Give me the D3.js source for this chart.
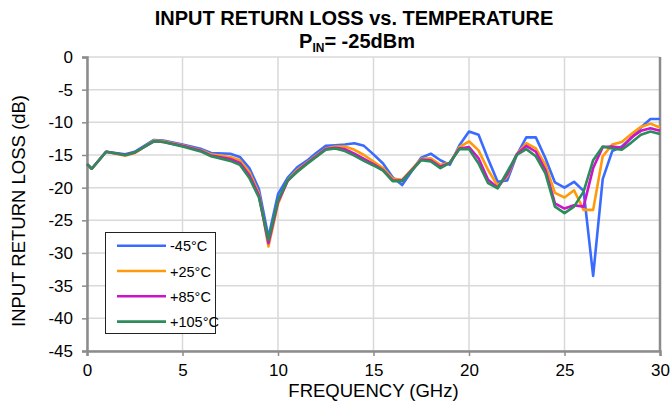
<!DOCTYPE html>
<html>
<head>
<meta charset="utf-8">
<script src="https://cdn.jsdelivr.net/npm/d3@7"></script>
<style>
  html, body { margin: 0; padding: 0; background: #fff; }
  svg { display: block; font-family: "Liberation Sans", Arial, sans-serif; }
</style>
</head>
<body>
<svg id="chart" width="672" height="406"></svg>
<script>
// ---- data ----
const freqGHz = [0, 0.25, 1, 2, 2.5, 3.5, 4, 5, 6, 6.5, 7.5, 8, 8.5, 9, 9.5, 10, 10.5, 11, 11.5, 12, 12.5, 13, 13.5, 14, 14.5, 15, 15.5, 16, 16.5, 17, 17.5, 18, 18.5, 19, 19.5, 20, 20.5, 21, 21.5, 22, 22.5, 23, 23.5, 24, 24.5, 25, 25.5, 26, 26.5, 27, 27.5, 28, 28.5, 29, 29.5, 30];
const rlMinus45 = [-16.4, -17.1, -14.5, -14.9, -14.5, -12.7, -12.8, -13.4, -14.1, -14.7, -14.8, -15.3, -17.0, -20.2, -27.6, -21.0, -18.5, -16.9, -15.9, -14.7, -13.6, -13.5, -13.4, -13.2, -13.6, -14.9, -16.3, -18.4, -19.6, -17.5, -15.4, -14.8, -15.8, -16.5, -13.5, -11.4, -11.9, -15.6, -19.1, -18.9, -15.0, -12.3, -12.3, -15.5, -19.2, -20.0, -19.1, -20.5, -33.5, -18.7, -14.4, -13.7, -12.4, -10.8, -9.5, -9.5];
const rlPlus25 = [-16.4, -17.1, -14.5, -15.1, -14.7, -12.8, -12.9, -13.5, -14.3, -14.9, -15.3, -15.8, -17.6, -20.9, -29.0, -22.5, -18.9, -17.3, -16.2, -15.1, -14.0, -13.7, -13.7, -14.2, -15.0, -16.0, -17.0, -18.6, -18.8, -17.2, -15.6, -15.5, -16.5, -16.2, -13.8, -12.9, -14.3, -17.3, -19.7, -18.3, -14.9, -13.2, -14.0, -16.5, -20.8, -21.5, -20.4, -23.4, -23.4, -15.2, -13.4, -13.0, -11.8, -10.7, -10.2, -10.8];
const rlPlus85 = [-16.4, -17.1, -14.5, -15.0, -14.6, -12.9, -13.0, -13.6, -14.4, -15.1, -15.6, -16.2, -18.1, -21.2, -28.5, -22.2, -19.0, -17.5, -16.3, -15.2, -14.1, -13.9, -14.1, -14.8, -15.6, -16.4, -17.3, -18.9, -18.9, -17.3, -15.7, -15.8, -16.8, -16.2, -14.0, -13.8, -15.5, -18.8, -20.0, -18.0, -14.9, -13.6, -14.5, -17.3, -22.4, -23.2, -22.7, -22.9, -17.0, -13.8, -13.7, -13.9, -12.3, -11.3, -10.9, -11.3];
const rlPlus105 = [-16.4, -17.1, -14.5, -15.0, -14.6, -12.9, -13.0, -13.7, -14.5, -15.2, -15.9, -16.5, -18.5, -21.5, -28.0, -21.9, -18.9, -17.6, -16.4, -15.3, -14.2, -14.0, -14.4, -15.1, -15.9, -16.6, -17.4, -19.0, -19.0, -17.4, -15.8, -16.0, -17.0, -16.2, -14.1, -14.1, -16.3, -19.3, -20.1, -17.6, -15.0, -14.1, -15.2, -17.8, -22.9, -23.9, -22.9, -20.6, -15.8, -13.7, -14.0, -14.2, -13.1, -11.9, -11.4, -11.8];
const seriesNames = ["-45°C", "+25°C", "+85°C", "+105°C"];
const seriesColors = ["#3a6bff", "#ff9a0a", "#cc14c8", "#2e8b5a"];
const xTicks = [0, 5, 10, 15, 20, 25, 30];
const yTicks = [0, -5, -10, -15, -20, -25, -30, -35, -40, -45];

const allSeries = [rlMinus45, rlPlus25, rlPlus85, rlPlus105];

// ---- layout ----
const svg = d3.select("#chart");
const L = 87, R = 660, T = 57, B = 351;
const x = d3.scaleLinear().domain([0, 30]).range([L, R]);
const y = d3.scaleLinear().domain([-45, 0]).range([B, T]);

// gridlines
const grid = svg.append("g");
grid.selectAll("line.h").data(yTicks).join("line")
  .attr("x1", L).attr("x2", R)
  .attr("y1", d => y(d)).attr("y2", d => y(d))
  .attr("stroke", "#d9d9d9").attr("stroke-width", 1.5);
grid.selectAll("line.v").data(xTicks).join("line")
  .attr("y1", T).attr("y2", B)
  .attr("x1", d => x(d)).attr("x2", d => x(d))
  .attr("stroke", "#d9d9d9").attr("stroke-width", 1.5);

// frame: right border
svg.append("line").attr("x1", R).attr("x2", R).attr("y1", T).attr("y2", B)
  .attr("stroke", "#8c8c8c").attr("stroke-width", 2.5);

// axes
const yAxis = d3.axisLeft(y).tickValues(yTicks).tickSize(5).tickPadding(9)
  .tickFormat(d => String(d));
const gy = svg.append("g").attr("transform", `translate(${L},0)`).call(yAxis);
gy.select(".domain").attr("stroke", "#8c8c8c").attr("stroke-width", 2.5);
gy.selectAll(".tick line").attr("stroke", "#8c8c8c").attr("stroke-width", 1.5);
gy.selectAll(".tick text").attr("font-size", 17).attr("fill", "#000")
  .attr("font-family", "Liberation Sans, Arial, sans-serif");

const xAxis = d3.axisBottom(x).tickValues(xTicks).tickSize(5).tickPadding(8)
  .tickFormat(d => String(d));
const gx = svg.append("g").attr("transform", `translate(0,${B})`).call(xAxis);
gx.select(".domain").attr("stroke", "#8c8c8c").attr("stroke-width", 2.5);
gx.selectAll(".tick line").attr("stroke", "#8c8c8c").attr("stroke-width", 1.5);
gx.selectAll(".tick text").attr("font-size", 17).attr("fill", "#000")
  .attr("font-family", "Liberation Sans, Arial, sans-serif");

// lines
const line = d3.line().x((d, i) => x(freqGHz[i])).y(d => y(d));
svg.append("g").selectAll("path").data(allSeries).join("path")
  .attr("d", d => line(d))
  .attr("fill", "none")
  .attr("stroke", (d, i) => seriesColors[i])
  .attr("stroke-width", 2.6)
  .attr("stroke-linejoin", "round");

// titles
svg.append("text").attr("x", 354).attr("y", 25).attr("text-anchor", "middle")
  .attr("font-size", 20).attr("font-weight", "bold")
  .text("INPUT RETURN LOSS vs. TEMPERATURE");
const sub = svg.append("text").attr("x", 357).attr("y", 48).attr("text-anchor", "middle")
  .attr("font-size", 20).attr("font-weight", "bold");
sub.append("tspan").text("P");
sub.append("tspan").attr("font-size", 12).attr("dy", 4).text("IN");
sub.append("tspan").attr("dy", -4).text("= -25dBm");

svg.append("text").attr("x", (L + R) / 2).attr("y", 397).attr("text-anchor", "middle")
  .attr("font-size", 18.5).text("FREQUENCY (GHz)");
svg.append("text").attr("transform", `translate(25,${(T + B) / 2 + 7}) rotate(-90)`)
  .attr("text-anchor", "middle").attr("font-size", 18.5)
  .text("INPUT RETURN LOSS (dB)");

// legend
const lg = svg.append("g");
lg.append("rect").attr("x", 105.5).attr("y", 232.5).attr("width", 110).attr("height", 101)
  .attr("fill", "#fff").attr("stroke", "#222").attr("stroke-width", 1);
const rows = lg.selectAll("g.row").data(seriesNames).join("g")
  .attr("transform", (d, i) => `translate(0,${245.7 + i * 25.3})`);
rows.append("line").attr("x1", 117).attr("x2", 166).attr("y1", 0).attr("y2", 0)
  .attr("stroke", (d, i) => seriesColors[i]).attr("stroke-width", 2.6);
rows.append("text").attr("x", 170).attr("y", 5.5).attr("font-size", 14.5).text(d => d);
</script>
</body>
</html>
